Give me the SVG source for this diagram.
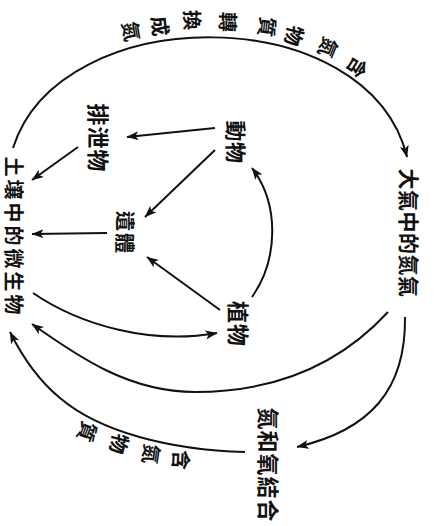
<svg xmlns="http://www.w3.org/2000/svg" width="435" height="526" viewBox="0 0 435 526">
<defs>
<marker id="ah" markerWidth="13" markerHeight="10" refX="11.5" refY="4.5" orient="auto" markerUnits="userSpaceOnUse">
<path d="M0,0 L12,4.5 L0,9 L3,4.5 z" fill="#111"/>
</marker>
<style>
.lbl{font-family:"Noto Sans CJK TC","Noto Sans CJK SC",sans-serif;font-weight:bold;fill:#111;text-anchor:middle;dominant-baseline:central}
.big{font-size:22px;letter-spacing:1px}
.arc{font-size:20px}
.cn path,.cn line{fill:none;stroke:#111;stroke-width:2;marker-end:url(#ah)}
</style>
</defs>
<rect width="435" height="526" fill="#fff"/>
<g id="connectors" class="cn">
<path d="M13,148 C60,-1 368,-1 407,157"/>
<path d="M405,317 C406,390 370,430 297,447"/>
<path d="M388,312 C330,375 260,392 195,392 C130,392 80,358 32,324"/>
<path d="M245,452 C170,450 100,432 60,398 C38,380 22,356 10,332"/>
<path d="M33,293 C80,325 150,345 217,333"/>
<path d="M252,297 C278,260 280,205 252,168"/>
<line x1="220" y1="310" x2="147" y2="257"/>
<line x1="215" y1="150" x2="145" y2="217"/>
<line x1="215" y1="128" x2="127" y2="137"/>
<line x1="78" y1="147" x2="32" y2="180"/>
<line x1="107" y1="233" x2="32" y2="234"/>
</g>
<g id="atmosphere"><text class="lbl big" transform="translate(410,233) rotate(90)" style="font-size:21px;letter-spacing:0.5px">大氣中的氮氣</text></g>
<g id="soil"><text class="lbl big" transform="translate(14,237) rotate(90)" style="font-size:20px;letter-spacing:3px">土壤中的微生物</text></g>
<g id="excreta"><text class="lbl big" transform="translate(100,138) rotate(90)">排泄物</text></g>
<g id="animal"><text class="lbl big" transform="translate(237,142) rotate(90)" style="font-size:21px;letter-spacing:0.5px">動物</text></g>
<g id="remains"><text class="lbl big" transform="translate(125,233) rotate(90)" style="font-size:20px;letter-spacing:2px">遺體</text></g>
<g id="plant"><text class="lbl big" transform="translate(240,324) rotate(90)">植物</text></g>
<g id="fixation"><text class="lbl big" transform="translate(270,465) rotate(90)">氮和氧結合</text></g>
<g id="label-top">
<text class="lbl arc" transform="translate(132,31) rotate(80)">氮</text>
<text class="lbl arc" transform="translate(161,26) rotate(84)">成</text>
<text class="lbl arc" transform="translate(193,20) rotate(88)">換</text>
<text class="lbl arc" transform="translate(229,22) rotate(92)">轉</text>
<text class="lbl arc" transform="translate(268,27) rotate(98)">質</text>
<text class="lbl arc" transform="translate(295,36) rotate(104)">物</text>
<text class="lbl arc" transform="translate(329,48) rotate(112)">氮</text>
<text class="lbl arc" transform="translate(358,68) rotate(122)">含</text>
</g>
<g id="label-bottom">
<text class="lbl arc" transform="translate(182,460) rotate(93)">含</text>
<text class="lbl arc" transform="translate(152,454) rotate(98)">氮</text>
<text class="lbl arc" transform="translate(120,444) rotate(104)">物</text>
<text class="lbl arc" transform="translate(88,432) rotate(110)">質</text>
</g>
</svg>
